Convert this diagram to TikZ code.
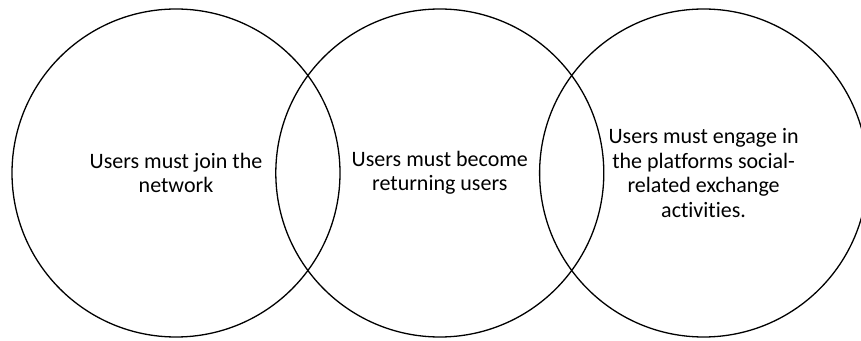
\documentclass[tikz,border=0pt]{standalone}
\usepackage{fontspec}
\setmainfont[Ligatures=NoCommon]{Carlito}
\usetikzlibrary{positioning}

\begin{document}
\begin{tikzpicture}[
  x=1pt,y=1pt,
  node distance=-65.5pt,
  stage/.style={circle,draw=black,line width=1.3pt,minimum size=328pt,inner sep=0pt,align=center,font=\fontsize{22}{24.5}\selectfont}
]
\useasboundingbox (0,0) rectangle (861,340);
\clip (0,0) rectangle (861,340);
\node[stage] (join) at (176,167) {Users must join the\\network};
\node[stage,right=of join] (returning) {Users must become\\returning users};
\node[stage,right=of returning] (engage) {Users must engage in\\the platforms social-\\related exchange\\activities.};
\end{tikzpicture}
\end{document}
